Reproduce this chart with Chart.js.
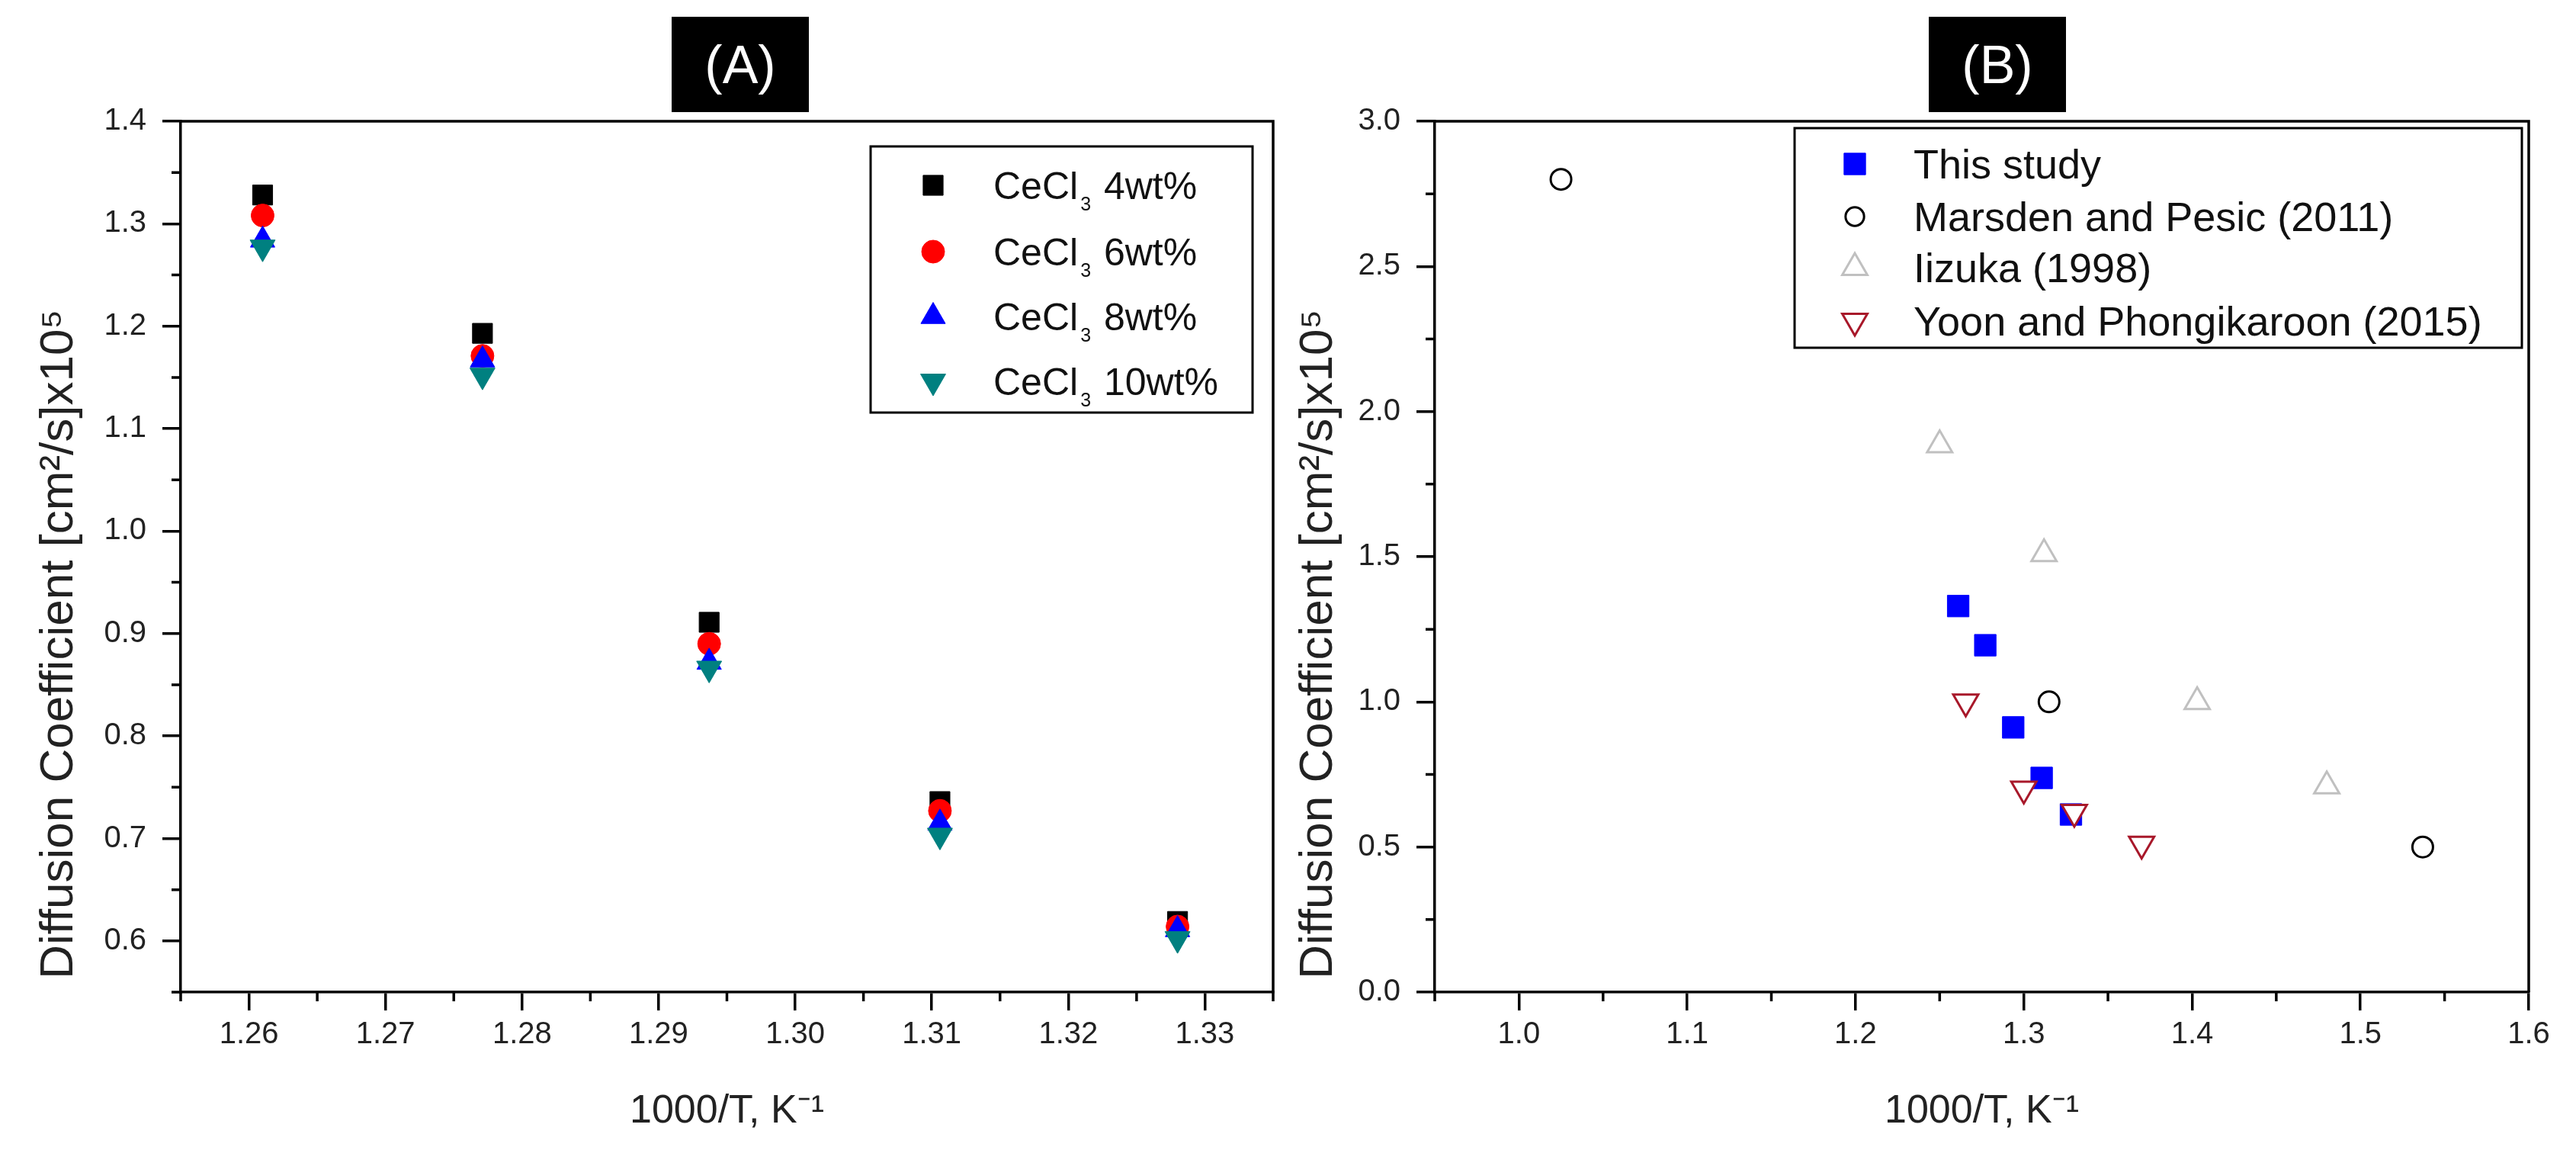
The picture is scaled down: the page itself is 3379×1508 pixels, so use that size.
<!DOCTYPE html>
<html><head><meta charset="utf-8">
<script src="https://cdn.jsdelivr.net/npm/chart.js@4.4.1/dist/chart.umd.min.js"></script>
<style>
html,body{margin:0;padding:0;background:#fff;}
#page{position:relative;width:3379px;height:1508px;overflow:hidden;background:#fff;}
.wrap{position:absolute;top:0;height:1508px;}
#wa{left:0;width:1690px;}
#wb{left:1690px;width:1689px;}
.tag{position:absolute;top:22px;width:180px;height:125px;background:#000;color:#fff;font:70px 'Liberation Sans',Arial,sans-serif;display:flex;align-items:center;justify-content:center;}
</style></head>
<body><div id="page">
<div class="wrap" id="wa"><canvas id="ca"></canvas></div>
<div class="wrap" id="wb"><canvas id="cb"></canvas></div>
<div class="tag" style="left:881px">(A)</div>
<div class="tag" style="left:2530px">(B)</div>
</div>
<script>
// ---------- data (panel A) ----------
const xA = [1.2610, 1.2771, 1.2937, 1.3106, 1.3280];
const dCeCl3_4wt  = [1.328, 1.193, 0.911, 0.736, 0.619];
const dCeCl3_6wt  = [1.308, 1.171, 0.890, 0.727, 0.614];
const dCeCl3_8wt  = [1.284, 1.167, 0.872, 0.715, 0.611];
const dCeCl3_10wt = [1.277, 1.152, 0.866, 0.703, 0.602];
const labelsA = ['CeCl₃ 4wt%', 'CeCl₃ 6wt%', 'CeCl₃ 8wt%', 'CeCl₃ 10wt%'];

// ---------- data (panel B) ----------
const xThisStudy = [1.2610, 1.2771, 1.2937, 1.3106, 1.3280];
const dThisStudy = [1.330, 1.195, 0.912, 0.738, 0.612];
const xMarsden = [1.025, 1.315, 1.537];
const dMarsden = [2.80, 1.00, 0.50];
const xIizuka = [1.250, 1.312, 1.403, 1.480];
const dIizuka = [1.885, 1.51, 1.00, 0.71];
const xYoon = [1.2655, 1.300, 1.330, 1.370];
const dYoon = [1.00, 0.70, 0.62, 0.51];
const labelsB = ['This study', 'Marsden and Pesic (2011)', 'Iizuka (1998)', 'Yoon and Phongikaroon (2015)'];

// ---------- ticks ----------
const xTicksA = [1.26, 1.27, 1.28, 1.29, 1.30, 1.31, 1.32, 1.33];
const xMinorA = [1.255, 1.265, 1.275, 1.285, 1.295, 1.305, 1.315, 1.325, 1.335];
const yTicksA = [0.6, 0.7, 0.8, 0.9, 1.0, 1.1, 1.2, 1.3, 1.4];
const yMinorA = [0.55, 0.65, 0.75, 0.85, 0.95, 1.05, 1.15, 1.25, 1.35];
const xTicksB = [1.0, 1.1, 1.2, 1.3, 1.4, 1.5, 1.6];
const xMinorB = [0.95, 1.05, 1.15, 1.25, 1.35, 1.45, 1.55];
const yTicksB = [0.0, 0.5, 1.0, 1.5, 2.0, 2.5, 3.0];
const yMinorB = [0.25, 0.75, 1.25, 1.75, 2.25, 2.75];

const xTitle = '1000/T, K⁻¹';
const yTitle = ' Diffusion Coefficient [cm²/s]x10⁵';

// ---------- helpers ----------
const FONT = "'Liberation Sans', Arial, sans-serif";
const pts = (xs, ys) => xs.map((x, i) => ({x: x, y: ys[i]}));
const SUB = {'₀':'0','₁':'1','₂':'2','₃':'3','₄':'4','₅':'5','₆':'6','₇':'7','₈':'8','₉':'9'};

function drawRich(ctx, text, x, yMid, size) {
  const base = yMid + 0.358 * size;
  let cx = x, buf = '';
  const flush = () => {
    if (!buf) return;
    ctx.font = size + 'px ' + FONT;
    ctx.fillText(buf, cx, base);
    cx += ctx.measureText(buf).width;
    buf = '';
  };
  for (const ch of text) {
    if (SUB[ch]) {
      flush();
      const s = Math.round(size * 0.5);
      ctx.font = s + 'px ' + FONT;
      cx += size * 0.06;
      ctx.fillText(SUB[ch], cx, base + s * 0.62);
      cx += ctx.measureText(SUB[ch]).width + size * 0.06;
    } else buf += ch;
  }
  flush();
}

const frameAndMinor = {
  id: 'frameAndMinor',
  afterDraw(chart, args, o) {
    const ctx = chart.ctx, a = chart.chartArea;
    const xs = chart.scales.x, ys = chart.scales.y;
    ctx.save();
    ctx.strokeStyle = '#000';
    ctx.lineWidth = o.width;
    ctx.lineJoin = 'miter';
    ctx.beginPath();
    ctx.moveTo(a.left - o.width / 2, a.top);
    ctx.lineTo(a.right, a.top);
    ctx.lineTo(a.right, a.bottom);
    ctx.stroke();
    ctx.beginPath();
    o.xMinor.forEach(v => { const p = xs.getPixelForValue(v); ctx.moveTo(p, a.bottom); ctx.lineTo(p, a.bottom + o.len); });
    o.yMinor.forEach(v => { const p = ys.getPixelForValue(v); ctx.moveTo(a.left, p); ctx.lineTo(a.left - o.len, p); });
    ctx.stroke();
    ctx.restore();
  }
};

const boxLegend = {
  id: 'boxLegend',
  afterDatasetsDraw(chart, args, o) {
    const ctx = chart.ctx;
    ctx.save();
    ctx.fillStyle = '#fff';
    ctx.fillRect(o.left, o.top, o.right - o.left, o.bottom - o.top);
    ctx.lineWidth = o.lineWidth;
    ctx.strokeStyle = '#000';
    ctx.strokeRect(o.left, o.top, o.right - o.left, o.bottom - o.top);
    chart.data.datasets.forEach((ds, i) => {
      const y = o.rows[i];
      ctx.fillStyle = ds.backgroundColor;
      ctx.strokeStyle = ds.borderColor;
      ctx.lineWidth = ds.pointBorderWidth;
      const sc = (o.markerScale && o.markerScale[i] !== undefined) ? o.markerScale[i] : 1;
      Chart.helpers.drawPoint(ctx, {
        pointStyle: ds.pointStyle, rotation: ds.pointRotation || 0,
        radius: ds.pointRadius * sc, borderWidth: ds.pointBorderWidth
      }, o.markerX, y);
      ctx.fillStyle = '#111';
      ctx.textBaseline = 'alphabetic';
      ctx.textAlign = 'left';
      drawRich(ctx, ds.label, o.textX, y, o.fontSize);
    });
    ctx.restore();
  }
};

function axes(o) {
  const tickFont = {family: FONT, size: 40};
  return {
    x: {
      type: 'linear', min: o.xmin, max: o.xmax,
      afterBuildTicks: s => { s.ticks = o.xTicks.map(v => ({value: v})); },
      afterFit: s => { s.height = o.xH; },
      ticks: {autoSkip: false, maxRotation: 0, font: tickFont, color: '#222', padding: 8,
              callback: v => Number(v).toFixed(o.xDec)},
      grid: {drawOnChartArea: false, drawTicks: true, tickLength: 24, tickWidth: 3.5, tickColor: '#000', lineWidth: 3.5, color: '#000'},
      border: {display: true, color: '#000', width: 3.5},
      title: {display: true, text: xTitle, color: '#222', font: {family: FONT, size: 52}, padding: {top: 0, bottom: 19}}
    },
    y: {
      type: 'linear', min: o.ymin, max: o.ymax,
      afterBuildTicks: s => { s.ticks = o.yTicks.map(v => ({value: v})); },
      afterFit: s => { s.width = o.yW; },
      ticks: {autoSkip: false, font: tickFont, color: '#222', padding: 21,
              callback: v => Number(v).toFixed(1)},
      grid: {drawOnChartArea: false, drawTicks: true, tickLength: 24, tickWidth: 3.5, tickColor: '#000', lineWidth: 3.5, color: '#000'},
      border: {display: true, color: '#000', width: 3.5},
      title: {display: true, text: yTitle, align: 'start', color: '#222', font: {family: FONT, size: 62}, padding: {top: o.yTitlePad, bottom: 0}}
    }
  };
}

const common = {
  responsive: true, maintainAspectRatio: false, animation: false, events: [],
  plugins: {legend: {display: false}, tooltip: {enabled: false}}
};

// ---------- chart A ----------
new Chart(document.getElementById('ca'), {
  type: 'scatter',
  data: {datasets: [
    {label: labelsA[0], data: pts(xA, dCeCl3_4wt),  pointStyle: 'rect', pointRadius: 18.5, backgroundColor: '#000000', borderColor: '#000000', pointBorderWidth: 1, order: 3},
    {label: labelsA[1], data: pts(xA, dCeCl3_6wt),  pointStyle: 'circle', pointRadius: 15, backgroundColor: '#ff0000', borderColor: '#ff0000', pointBorderWidth: 1, order: 2},
    {label: labelsA[2], data: pts(xA, dCeCl3_8wt),  pointStyle: 'triangle', pointRadius: 18.5, backgroundColor: '#0000ff', borderColor: '#0000ff', pointBorderWidth: 1, order: 1},
    {label: labelsA[3], data: pts(xA, dCeCl3_10wt), pointStyle: 'triangle', pointRotation: 180, pointRadius: 19, backgroundColor: '#008080', borderColor: '#008080', pointBorderWidth: 1, order: 0}
  ]},
  options: Object.assign({}, common, {
    layout: {padding: {top: 159, right: 18, bottom: 0, left: 0}},
    scales: axes({xmin: 1.255, xmax: 1.335, ymin: 0.55, ymax: 1.4, xTicks: xTicksA, yTicks: yTicksA, xDec: 2, xH: 207, yW: 237, yTitlePad: 41}),
    plugins: Object.assign({}, common.plugins, {
      frameAndMinor: {width: 3.5, len: 12, xMinor: xMinorA, yMinor: yMinorA},
      boxLegend: {left: 1142, top: 192, right: 1643, bottom: 541, lineWidth: 3, rows: [243, 330, 415, 500], markerX: 1224, textX: 1303, fontSize: 50, markerScale: [1, 1, 1, 1]}
    })
  }),
  plugins: [frameAndMinor, boxLegend]
});

// ---------- chart B ----------
new Chart(document.getElementById('cb'), {
  type: 'scatter',
  data: {datasets: [
    {label: labelsB[0], data: pts(xThisStudy, dThisStudy), pointStyle: 'rect', pointRadius: 20, backgroundColor: '#0000ff', borderColor: '#0000ff', pointBorderWidth: 1, order: 3},
    {label: labelsB[1], data: pts(xMarsden, dMarsden), pointStyle: 'circle', pointRadius: 13.5, backgroundColor: '#ffffff', borderColor: '#000000', pointBorderWidth: 3, order: 2},
    {label: labelsB[2], data: pts(xIizuka, dIizuka), pointStyle: 'triangle', pointRadius: 19, backgroundColor: '#ffffff', borderColor: '#c0c0c0', pointBorderWidth: 3, order: 1},
    {label: labelsB[3], data: pts(xYoon, dYoon), pointStyle: 'triangle', pointRotation: 180, pointRadius: 19, backgroundColor: '#ffffff', borderColor: '#a8182a', pointBorderWidth: 3, order: 0}
  ]},
  options: Object.assign({}, common, {
    layout: {padding: {top: 159, right: 1689 - (3317 - 1690), bottom: 0, left: 0}},
    scales: axes({xmin: 0.95, xmax: 1.6, ymin: 0, ymax: 3.0, xTicks: xTicksB, yTicks: yTicksB, xDec: 1, xH: 207, yW: 1882 - 1690, yTitlePad: 3}),
    plugins: Object.assign({}, common.plugins, {
      frameAndMinor: {width: 3.5, len: 12, xMinor: xMinorB, yMinor: yMinorB},
      boxLegend: {left: 2354 - 1690, top: 168, right: 3308 - 1690, bottom: 456, lineWidth: 3, rows: [215, 284, 351, 421], markerX: 2433 - 1690, textX: 2510 - 1690, fontSize: 54, markerScale: [1, 0.9, 1, 1]}
    })
  }),
  plugins: [frameAndMinor, boxLegend]
});
</script>
</body></html>
